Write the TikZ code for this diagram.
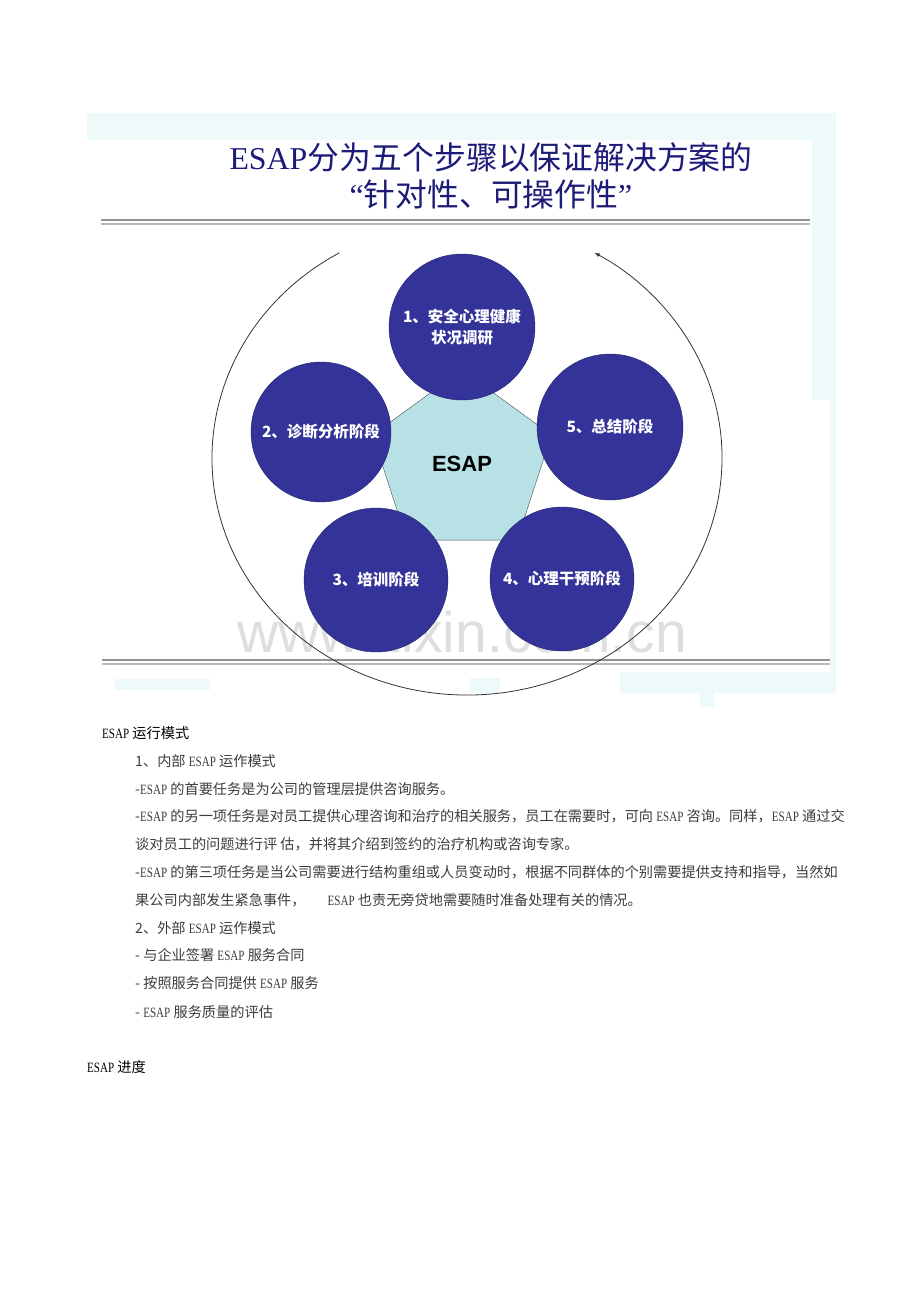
\documentclass[tikz,border=0pt]{standalone}
\usepackage{fontspec}
\setmainfont{Liberation Serif}
\newfontfamily\cjk{Noto Sans CJK SC}
\newfontfamily\arial{Liberation Sans}
\newfontfamily\narrowserif[FakeStretch=0.78]{Liberation Serif}
\usepackage{tikz}
\usetikzlibrary{shapes,arrows,positioning,calc}
\definecolor{stageblue}{HTML}{333399}
\definecolor{pentafill}{HTML}{B7E1E5}
\definecolor{bgcyan}{HTML}{EEF9FA}
\definecolor{titleblue}{HTML}{1C1C78}
\definecolor{wmgray}{HTML}{DEDEDE}
\definecolor{bodygray}{HTML}{3C3C3C}
\tikzset{stage/.style={circle, draw=stageblue!70!black, fill=stageblue, text=white,
		minimum size=144pt, inner sep=0pt, align=center, font=\cjk\bfseries\fontsize{15.5}{21}\selectfont}}
\tikzset{bodyline/.style={anchor=west, inner sep=0pt, text=bodygray,
		font=\cjk\fontsize{14.2}{16}\selectfont}}
\tikzset{rule/.style={line width=1.2pt}}
\newcommand{\esap}{{\narrowserif ESAP}}

\begin{document}
\begin{tikzpicture}[x=1pt, y=-1pt]
			\useasboundingbox (0,0) rectangle (920,1302);
			
			% screenshot frame
			\fill[bgcyan] (87,113) rectangle (836,140);
			\fill[bgcyan] (812,140) rectangle (836,400);
			\fill[bgcyan] (830,400) rectangle (836,672);
			\fill[bgcyan] (620,672) rectangle (836,693);
			\fill[bgcyan] (700,693) rectangle (714,707);
			\fill[bgcyan] (115,679) rectangle (210,690);
			\fill[bgcyan] (470,678) rectangle (500,693);
			
			\node (title) [align=center, text=titleblue, font=\cjk\fontsize{31.8}{37}\selectfont] at (491,176)
				{{\rmfamily ESAP}分为五个步骤以保证解决方案的\\{\rmfamily “}针对性、可操作性{\rmfamily ”}};
			
			\draw[rule, gray!85] (101,220) -- (810,220);
			\draw[rule, gray!55] (101,224) -- (810,224);
			\draw[rule, gray!85] (102,660) -- (830,660);
			\draw[rule, gray!55] (102,664) -- (830,664);
			
			\node (mark) [anchor=base, text=wmgray, font=\arial\fontsize{57}{60}\selectfont] at (462,652) {www.zixin.com.cn};
			
			\draw[-latex, line width=0.8pt, black!80] (467,458) ++(-120:255 and 237)
				arc[start angle=-120, end angle=-420, x radius=255, y radius=237];
			
			\node (esap) [regular polygon, regular polygon sides=5, minimum size=188pt, inner sep=0pt,
				draw=gray!60!black, fill=pentafill, font=\arial\bfseries\fontsize{22}{26}\selectfont] at (462,464) {ESAP};
			
			\node (c1) [stage, minimum size=146pt] at (462,327) {1、安全心理健康\\状况调研};
			\node (c2) [stage, minimum size=140pt] at (321,432) {2、诊断分析阶段};
			\node (c5) [stage, minimum size=146pt] at (610,427) {5、总结阶段};
			\node (c3) [stage] at (376,580) {3、培训阶段};
			\node (c4) [stage] at (562,579) {4、心理干预阶段};
			
			\node (mode) [bodyline, text=black] at (102,733) {\esap\ 运行模式};
			\node (m1) [bodyline, below=28pt of mode.west, anchor=west, xshift=33pt] {1、内部 \esap\ 运作模式};
			\node (m2) [bodyline, below=28pt of m1.west, anchor=west] {-\esap\ 的首要任务是为公司的管理层提供咨询服务。};
			\node (m3) [bodyline, below=27.5pt of m2.west, anchor=west] {-\esap\ 的另一项任务是对员工提供心理咨询和治疗的相关服务，员工在需要时，可向 \esap\ 咨询。同样，\esap\ 通过交};
			\node (m4) [bodyline, below=28pt of m3.west, anchor=west] {谈对员工的问题进行评 估，并将其介绍到签约的治疗机构或咨询专家。};
			\node (m5) [bodyline, below=28pt of m4.west, anchor=west] {-\esap\ 的第三项任务是当公司需要进行结构重组或人员变动时，根据不同群体的个别需要提供支持和指导，当然如};
			\node (m6) [bodyline, below=27.5pt of m5.west, anchor=west] {果公司内部发生紧急事件，\hspace{22pt}\esap\ 也责无旁贷地需要随时准备处理有关的情况。};
			\node (m7) [bodyline, below=28pt of m6.west, anchor=west] {2、外部 \esap\ 运作模式};
			\node (m8) [bodyline, below=27.5pt of m7.west, anchor=west] {- 与企业签署 \esap\ 服务合同};
			\node (m9) [bodyline, below=28pt of m8.west, anchor=west] {- 按照服务合同提供 \esap\ 服务};
			\node (m10) [bodyline, below=28.5pt of m9.west, anchor=west] {- \esap\ 服务质量的评估};
			
			\node (progress) [bodyline, text=black] at (87,1067) {\esap\ 进度};
\end{tikzpicture}
\end{document}
